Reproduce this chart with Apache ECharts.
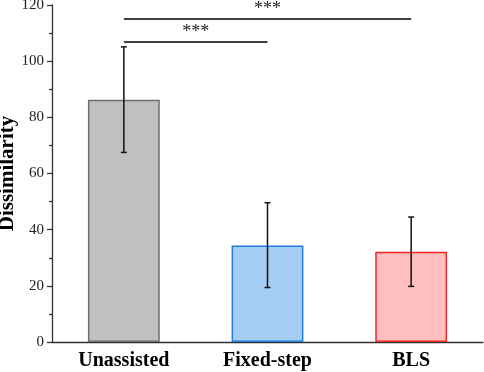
<!DOCTYPE html>
<html>
<head>
<meta charset="utf-8">
<script src="https://cdn.jsdelivr.net/npm/echarts@6/dist/echarts.min.js"></script>
<style>
  html, body { margin: 0; padding: 0; background: #fff; }
  #chart { width: 484px; height: 372px; }
</style>
</head>
<body>
<div id="chart"></div>
<script>
var categories = ['Unassisted', 'Fixed-step', 'BLS'];
var means = [86.3, 34.4, 32.1];
var errLow = [67.5, 19.4, 19.8];
var errHigh = [105.1, 49.6, 44.5];
var fills = ['#c0c0c0', '#a6cdf3', '#ffbfbf'];
var borders = ['#6e6e6e', '#1f7fe0', '#f52626'];
// significance brackets: [from, to, height]
var sigPairs = [
    ['Unassisted', 'BLS', 115],
    ['Unassisted', 'Fixed-step', 106.9]
];

var serif = '"Liberation Serif", "DejaVu Serif", serif';
var chart = echarts.init(document.getElementById('chart'));

chart.setOption({
    animation: false,
    grid: { left: 52, right: 1, top: 5, bottom: 30, outerBoundsMode: 'none' },
    xAxis: [{
        type: 'category',
        data: categories,
        axisLine: { lineStyle: { color: '#333', width: 1.3 } },
        axisTick: { alignWithLabel: true, length: 5, lineStyle: { color: '#333', width: 1.3 } },
        axisLabel: { color: '#000', fontFamily: serif, fontWeight: 'bold', fontSize: 20, margin: 9 }
    }, {
        type: 'category',
        data: categories,
        position: 'bottom',
        axisLine: { show: false },
        axisTick: { length: 3, lineStyle: { color: '#333', width: 1.3 } },
        axisLabel: { show: false }
    }],
    yAxis: {
        type: 'value',
        min: 0,
        max: 120,
        interval: 20,
        name: 'Dissimilarity',
        nameLocation: 'middle',
        nameGap: 34,
        nameMoveOverlap: false,
        nameTextStyle: { color: '#000', fontFamily: serif, fontWeight: 'bold', fontSize: 21 },
        axisLine: { show: true, lineStyle: { color: '#333', width: 1.3 } },
        axisTick: { show: true, length: 5, lineStyle: { color: '#333', width: 1.3 } },
        minorTick: { show: true, splitNumber: 2, length: 3, lineStyle: { color: '#333', width: 1.3 } },
        axisLabel: { color: '#222', fontFamily: serif, fontSize: 15, margin: 8 },
        splitLine: { show: false }
    },
    series: [{
        type: 'bar',
        barWidth: '50%',
        data: means.map(function (v, i) {
            return { value: v, itemStyle: { color: fills[i], borderColor: borders[i], borderWidth: 1.5 } };
        }),
        markLine: {
            symbol: 'none',
            silent: true,
            lineStyle: { color: '#000', width: 1.5, type: 'solid' },
            label: {
                show: true,
                position: 'middle',
                formatter: '***',
                color: '#222',
                fontFamily: serif,
                fontSize: 18,
                distance: 1
            },
            data: sigPairs.map(function (p) {
                return [{ coord: [p[0], p[2]] }, { coord: [p[1], p[2]] }];
            })
        }
    }, {
        type: 'custom',
        data: categories.map(function (c, i) { return [i, errLow[i], errHigh[i]]; }),
        z: 5,
        renderItem: function (params, api) {
            var lo = api.coord([api.value(0), api.value(1)]);
            var hi = api.coord([api.value(0), api.value(2)]);
            var w = 3;
            var st = { stroke: '#111', lineWidth: 1.5 };
            return {
                type: 'group',
                children: [
                    { type: 'line', shape: { x1: lo[0], y1: lo[1], x2: hi[0], y2: hi[1] }, style: st },
                    { type: 'line', shape: { x1: lo[0] - w, y1: lo[1], x2: lo[0] + w, y2: lo[1] }, style: st },
                    { type: 'line', shape: { x1: hi[0] - w, y1: hi[1], x2: hi[0] + w, y2: hi[1] }, style: st }
                ]
            };
        }
    }]
});
</script>
</body>
</html>
